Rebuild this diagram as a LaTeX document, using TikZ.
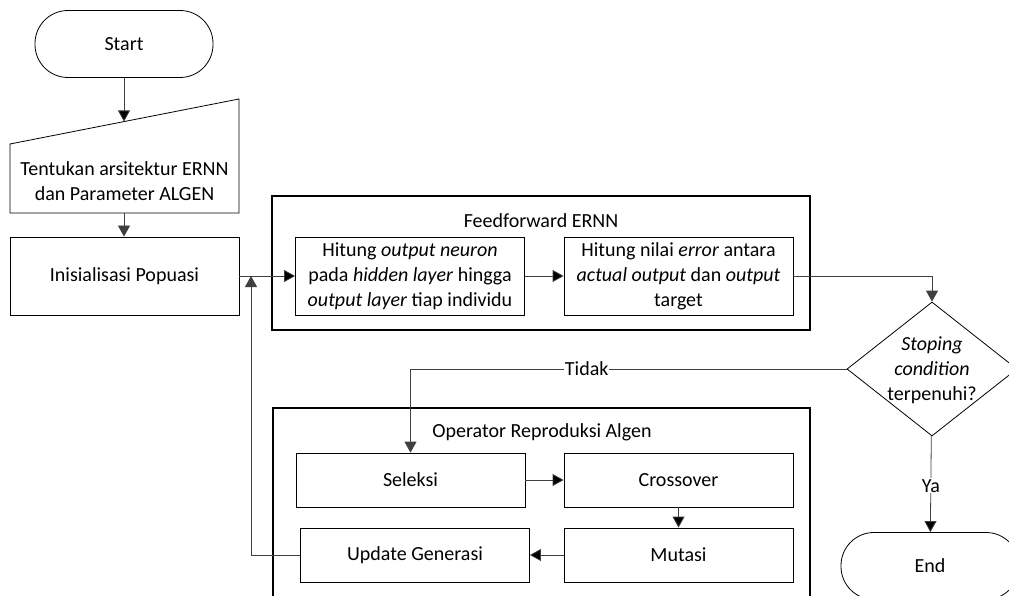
\documentclass[tikz,border=0pt]{standalone}
\usepackage{fontspec}
\setmainfont{Carlito}
\usetikzlibrary{arrows.meta,shapes.geometric}

\begin{document}
\begin{tikzpicture}[x=1pt, y=-1pt, >={Triangle[length=11pt,width=12pt]},
  every node/.style={font=\fontsize{20}{25}\selectfont},
  main node/.style={draw, line width=0.8pt, minimum width=229pt, minimum height=78pt, align=center, inner sep=0pt},
  small node/.style={main node, minimum height=54pt},
  term node/.style={draw, line width=0.8pt, rounded corners=33pt, minimum width=178pt, minimum height=67pt},
  group node/.style={draw, line width=1.6pt, inner sep=0pt},
  flow/.style={->, line width=0.8pt, draw=black!75}]
\useasboundingbox (0,0) rectangle (1009,596);

\node[term node] (start) at (124,44) {Start};
% manual input
\draw[line width=0.8pt] (10,213) -- (239,213) -- (239,99) -- (10,144) -- cycle;
\node[align=center] (param) at (124.5,181) {Tentukan arsitektur ERNN\\dan Parameter ALGEN};
\coordinate (ptop) at (124,121.5);
\coordinate (pbot) at (124,213.4);
\node[main node] (init) at (124.5,276) {Inisialisasi Popuasi};

% feedforward
\node[group node, minimum width=538pt, minimum height=134pt] (ffbox) at (541,263) {};
\node (fftitle) at (541,221) {Feedforward ERNN};
\node[main node] (hid) at (410,276) {Hitung \textit{output neuron}\\pada \textit{hidden layer} hingga\\\textit{output layer} tiap individu};
\node[main node] (err) at (678.5,276) {Hitung nilai \textit{error} antara\\\textit{actual output} dan \textit{output}\\target};

% decision
\node[draw, diamond, line width=0.8pt, minimum width=170pt, minimum height=134pt, inner sep=0pt] (cond) at (932,369) {};
\node[align=center] (condtxt) at (932,370) {\textit{Stoping}\\\textit{condition}\\terpenuhi?};
\node[term node] (end) at (930,566) {End};

% reproduksi
\node[group node, minimum width=537pt, minimum height=240pt] (opbox) at (541.5,528) {};
\node (optitle) at (542,432) {Operator Reproduksi Algen};
\node[small node] (sel) at (410.5,480) {Seleksi};
\node[small node] (cross) at (678.5,480) {Crossover};
\node[small node] (mut) at (678.5,555) {Mutasi};
\node[small node] (upd) at (415,555) {Update Generasi};
\coordinate (junc) at (251,276);

\path[flow]
(start) edge (ptop)
(init) edge (hid)
(hid) edge (err)
(sel) edge (cross)
(cross) edge (mut)
(mut) edge (upd)
(cond) edge node[fill=white, inner sep=1pt, pos=0.52] {Ya} (end);

\draw[flow] (pbot) -- (pbot |- init.north);
\draw[flow] (err.east) -| (cond.north);
\draw[flow] (cond.west) -| node[fill=white, inner sep=1pt, pos=0.298] {Tidak} (sel.north);
\draw[flow] (upd.west) -| (junc);
\end{tikzpicture}
\end{document}
